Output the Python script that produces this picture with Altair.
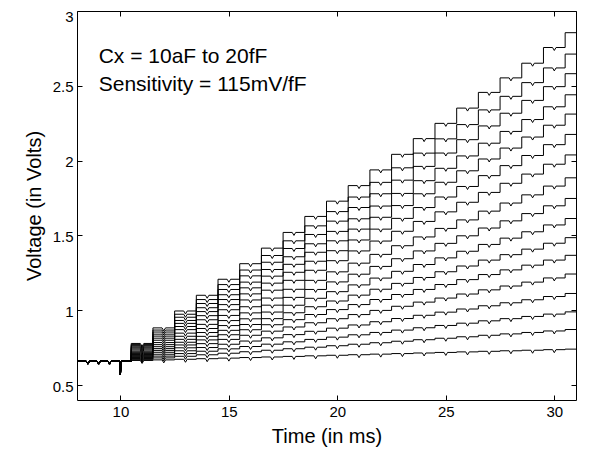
import altair as alt
import pandas as pd

# ---- values ----
BASE_LEVEL = 0.66
step_times = [10.5, 11.5, 12.5, 13.5, 14.5, 15.5, 16.5, 17.5, 18.5, 19.5, 20.5,
              21.5, 22.5, 23.5, 24.5, 25.5, 26.5, 27.5, 28.5, 29.5, 30.5]
mid_notch_times = [11, 12, 13, 14, 15, 16, 17, 18, 19, 20, 21, 22, 23, 24, 25,
                   26, 27, 28, 29, 30]
pre_notch_times = [8.5, 9.0, 9.5]
big_dip_time = 10.0
big_dip_level = 0.567
notch_depth = 0.02
# level of the top trace (20fF) before the first step and after each step
top_levels = [0.66, 0.778, 0.882, 0.995, 1.100, 1.207, 1.311, 1.415, 1.520, 1.627,
              1.729, 1.833, 1.938, 2.042, 2.147, 2.249, 2.351, 2.456, 2.553, 2.651,
              2.756, 2.855]
# level of every trace at the right end of the plot
final_levels = [2.855, 2.712, 2.581, 2.440, 2.311, 2.175, 2.038, 1.885, 1.747,
                1.613, 1.485, 1.367, 1.242, 1.112, 0.989, 0.871, 0.740]
x_ticks = [10, 15, 20, 25, 30]
y_ticks = [0.5, 1, 1.5, 2, 2.5, 3]
notes = ["Cx = 10aF to 20fF", "Sensitivity = 115mV/fF"]
note_x = [9.0, 9.0]
note_y = [2.655, 2.467]

T_START, T_END = 8.0, 31.0
W = 0.08

rows = []
top_rise = top_levels[-1] - BASE_LEVEL
for k, fin in enumerate(final_levels):
    frac = (fin - BASE_LEVEL) / top_rise
    lv = [BASE_LEVEL + (v - BASE_LEVEL) * frac for v in top_levels]
    pts = [(T_START, BASE_LEVEL)]
    for tn in pre_notch_times:
        pts += [(tn - W, BASE_LEVEL), (tn, BASE_LEVEL - notch_depth), (tn + W, BASE_LEVEL)]
    pts += [(big_dip_time - W / 2, BASE_LEVEL), (big_dip_time, big_dip_level),
            (big_dip_time + W / 2, BASE_LEVEL)]
    for n, st in enumerate(step_times):
        pts += [(st, lv[n]), (st, lv[n + 1])]
        m = mid_notch_times[n] if n < len(mid_notch_times) else None
        if m is not None:
            pts += [(m - W, lv[n + 1]), (m, lv[n + 1] - notch_depth), (m + W, lv[n + 1])]
    pts.append((T_END, lv[-1]))
    for i, (t, v) in enumerate(pts):
        rows.append({"trace": k, "i": i, "t": t, "v": v})
df = pd.DataFrame(rows)
df_notes = pd.DataFrame({"x": note_x, "y": note_y, "label": notes})

FONT = "Liberation Sans"
xscale = alt.Scale(domain=[T_START, T_END], nice=False, zero=False)
yscale = alt.Scale(domain=[0.4, 3.0], nice=False, zero=False)

lines = alt.Chart(df).mark_line(color="black", strokeWidth=1, clip=True).encode(
    x=alt.X("t:Q", scale=xscale,
            axis=alt.Axis(orient="bottom", values=x_ticks, offset=-5, tickSize=5,
                          domain=False, grid=False, title="Time (in ms)",
                          labelFontSize=15, titleFontSize=20, labelPadding=4,
                          titlePadding=7, labelColor="black", titleColor="black",
                          titleFontWeight="normal", tickColor="black")),
    y=alt.Y("v:Q", scale=yscale,
            axis=alt.Axis(orient="left", values=y_ticks, offset=-5, tickSize=5,
                          domain=False, grid=False, title="Voltage (in Volts)",
                          format="~g", labelFontSize=15, titleFontSize=20,
                          labelPadding=4, titlePadding=8, labelColor="black",
                          labelOffset=alt.condition("datum.value >= 3",
                                                    alt.value(5), alt.value(1)),
                          titleColor="black", titleFontWeight="normal",
                          tickColor="black")),
    detail="trace:N",
    order="i:Q",
)

mirror = alt.Chart(df).mark_line(strokeOpacity=0).encode(
    x=alt.X("t:Q", scale=xscale,
            axis=alt.Axis(orient="top", values=x_ticks, offset=-5, tickSize=5,
                          domain=False, grid=False, labels=False, title=None,
                          tickColor="black")),
    y=alt.Y("v:Q", scale=yscale,
            axis=alt.Axis(orient="right", values=y_ticks, offset=-5, tickSize=5,
                          domain=False, grid=False, labels=False, title=None,
                          tickColor="black")),
    detail="trace:N",
    order="i:Q",
)

text = alt.Chart(df_notes).mark_text(align="left", baseline="alphabetic",
                                     fontSize=21, font=FONT, color="black").encode(
    x=alt.X("x:Q", scale=xscale, axis=None),
    y=alt.Y("y:Q", scale=yscale, axis=None),
    text="label:N",
)

chart = alt.layer(lines, mirror, text).resolve_axis(
    x="independent", y="independent"
).properties(
    width=499, height=389,
    autosize=alt.AutoSizeParams(type="none"),
    padding={"left": 69, "top": 3, "right": 5, "bottom": 51},
).configure(font=FONT).configure_view(stroke="black", strokeWidth=1)

chart.save("out.html", embed_options={"renderer": "svg", "actions": False})
